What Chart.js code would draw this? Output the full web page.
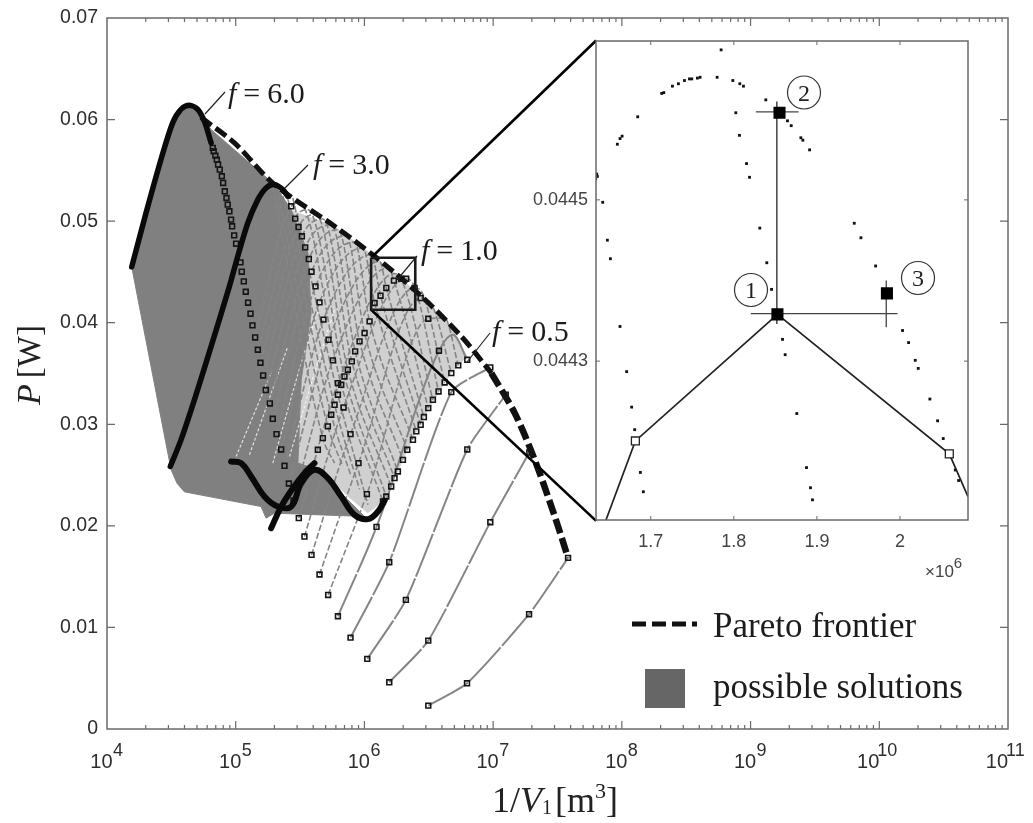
<!DOCTYPE html>
<html><head><meta charset="utf-8">
<script src="https://cdn.jsdelivr.net/npm/chart.js@4"></script>
<style>
html,body{margin:0;padding:0;background:#fff}
#wrap{position:relative;width:1033px;height:823px;overflow:hidden;filter:blur(0.45px)}
canvas{position:absolute;display:block}
</style></head><body>
<div id="wrap">
<canvas id="main" width="1033" height="823" style="left:0;top:0;width:1033px;height:823px"></canvas>
<canvas id="inset" width="503" height="570" style="left:530px;top:20px;width:503px;height:570px"></canvas>
</div>
<script>
// ---------- main chart values: [log10(1/V1), P in W] ----------
const xDecades = [4,5,6,7,8,9,10,11];
const yTicks = [0,0.01,0.02,0.03,0.04,0.05,0.06,0.07];
const solutionsRegion = [[4.192,.0455],[4.498,.02552],[4.544,.0242],[4.601,.02335],[5.197,.0219],[5.236,.02076],[5.301,.02125],[6.001,.02092],[5.871,.02256],[5.742,.0242],[5.612,.02568],[5.483,.02618],[5.509,.03438],[5.586,.04095],[5.561,.04686],[5.431,.05113],[5.301,.0536],[4.809,.05901],[4.705,.061],[4.64,.0614],[4.511,.0597],[4.192,.0455]];
const hatchRegion = [[5.431,.05113],[5.768,.0495],[6.079,.04654],[6.416,.04292],[6.675,.03964],[6.799,.03668],[6.675,.03504],[6.545,.03241],[6.403,.0293],[6.26,.02535],[6.144,.0224],[6.027,.02125],[5.871,.02289],[5.716,.02486],[5.612,.02585],[5.483,.02618],[5.509,.03438],[5.586,.04095],[5.561,.04686],[5.431,.05113]];
const f6Line = [[4.192,.0455],[4.303,.0508],[4.42,.0561],[4.511,.0597],[4.575,.061],[4.64,.0614],[4.705,.061],[4.757,.0598],[4.809,.0577]];
const f3Line = [[4.492,.02585],[4.575,.02847],[4.679,.03241],[4.809,.03767],[4.951,.04358],[5.016,.04654],[5.094,.04982],[5.172,.05212],[5.236,.05327],[5.301,.0536],[5.366,.0531],[5.405,.05245]];
const waveLine = [[4.964,.02634],[5.042,.02617],[5.12,.02486],[5.223,.02289],[5.327,.0219],[5.431,.0219],[5.509,.0242],[5.612,.02552],[5.716,.0247],[5.82,.02289],[5.923,.02108],[6.027,.02066],[6.105,.02141],[6.157,.0225]];
const riseLine = [[5.275,.01977],[5.353,.0219],[5.444,.02371],[5.534,.02519],[5.612,.02617]];
const f6Markers = [[4.822,.05721],[4.829,.05688],[4.842,.05645],[4.853,.05606],[4.863,.05557],[4.876,.05507],[4.892,.05442],[4.902,.05376],[4.915,.05294],[4.928,.05228],[4.938,.05163],[4.951,.05097],[4.964,.05015],[4.972,.04949],[4.988,.0486],[5.003,.04778],[5.037,.04594],[5.047,.04502],[5.063,.04407],[5.078,.04305],[5.096,.04197],[5.115,.04089],[5.13,.03974],[5.151,.03855],[5.172,.03734],[5.192,.03606],[5.213,.03481],[5.234,.03337],[5.265,.03205],[5.288,.03054],[5.317,.02903],[5.353,.02752],[5.379,.02591],[5.413,.02417],[5.449,.0225],[5.49,.02076],[5.534,.01895],[5.589,.01714],[5.651,.01521],[5.718,.0132],[5.794,.0111],[5.892,.009],[6.022,.0069],[6.193,.0046],[6.496,.0023]];
const f3Markers = [[5.431,.05146],[5.462,.05025],[5.488,.04942],[5.514,.04851],[5.54,.04742],[5.568,.04627],[5.589,.04502],[5.62,.04358],[5.651,.042],[5.682,.0403],[5.721,.03832],[5.755,.03629],[5.794,.03405],[5.838,.03166],[5.892,.02903],[5.954,.02618],[6.019,.02312],[6.094,.0199],[6.193,.01642],[6.322,.01271],[6.496,.0087],[6.797,.0045]];
const f1Markers = [[5.638,.02749],[5.677,.02864],[5.716,.02979],[5.742,.03094],[5.768,.03192],[5.794,.03291],[5.82,.03389],[5.845,.03471],[5.871,.03537],[5.902,.03619],[5.928,.03718],[5.962,.03816],[6.001,.03898],[6.04,.04013],[6.079,.04194],[6.125,.04266],[6.17,.04342],[6.229,.04414],[6.286,.04433],[6.325,.04433],[6.39,.04342],[6.437,.04243],[6.496,.04039],[6.579,.03724],[6.675,.03317],[6.799,.02752],[6.978,.02036],[7.279,.0113]];
const f05Markers = [[6.144,.0224],[6.17,.02289],[6.208,.02388],[6.234,.0247],[6.26,.02535],[6.299,.0265],[6.333,.02749],[6.377,.02847],[6.403,.0293],[6.437,.02995],[6.462,.03071],[6.496,.03159],[6.532,.03241],[6.576,.03323],[6.623,.03412],[6.675,.03504],[6.729,.0358],[6.799,.03635],[6.978,.0356],[7.098,.03291],[7.281,.02722],[7.582,.01685]];
// top of the constant-parameter curves, just under the frontier, for curves 4..21 counted from the lowest
const curvePeaks = [[6.688,.03882],[6.623,.04046],[6.519,.04187],[6.455,.04276],[6.39,.04351],[6.234,.04483],[6.182,.04539],[6.118,.04604],[6.053,.0467],[5.988,.04736],[5.923,.04795],[5.858,.04857],[5.794,.04916],[5.742,.04965],[5.677,.05021],[5.625,.05064],[5.56,.05113],[5.496,.05179]];
const descendingCurves = [[[5.444,.05228],[5.794,.03291],[6.027,.02207]],[[5.392,.05294],[5.768,.03192],[5.962,.0236]],[[5.353,.05327],[5.742,.03094],[5.897,.02486]],[[5.314,.0535],[5.716,.02979],[5.832,.02585]],[[5.288,.05343],[5.677,.02864],[5.768,.02617]]];
const paretoUpper = [[4.731,.0602],[4.99,.0577],[5.301,.0536],[5.768,.0495],[6.079,.04654],[6.416,.04292],[6.753,.03865],[6.986,.03504]];
const paretoLower = [[6.986,.03504],[7.168,.0311],[7.323,.0265],[7.479,.02092],[7.582,.01685]];
const streaks = [[[5.003,.02683],[5.275,.03504]],[[5.107,.027],[5.405,.03767]],[[5.288,.02617],[5.509,.03603],[5.716,.04424]],[[5.418,.02683],[5.612,.03504],[5.768,.04128]]];
const zoomBox = [[6.052,.0464],[6.395,.0464],[6.395,.04128],[6.052,.04128],[6.052,.0464]];
const connectorTop = [[6.052,.0464],[7.8,.06778]];
const connectorBottom = [[6.052,.04128],[7.8,.02049]];

// ---------- inset values: [1/V1 in units of 1e6, P in W] ----------
const insetXTicks = [1.7,1.8,1.9,2.0];
const insetYTicks = [0.0443,0.0445];
const insetDots = [[1.7847,.044686],[1.6843,.044603],[1.6598,.044569],[1.663,.044576],[1.6655,.044579],[1.7132,.044632],[1.7157,.044633],[1.7261,.044641],[1.7333,.044644],[1.7406,.044648],[1.7466,.04465],[1.7494,.04465],[1.7562,.044651],[1.7594,.044652],[1.7799,.044652],[1.7988,.044648],[1.8072,.044644],[1.8116,.044641],[1.8385,.044624],[1.8024,.044608],[1.8068,.04458],[1.8153,.044545],[1.8189,.044528],[1.8313,.044465],[1.8397,.044422],[1.8454,.044389],[1.8646,.044598],[1.8691,.044592],[1.8807,.044577],[1.8831,.044574],[1.8912,.044562],[1.945,.044471],[1.953,.044453],[1.9707,.044418],[1.635,.044532],[1.6357,.044529],[1.6337,.044526],[1.6422,.044497],[1.6478,.04445],[1.6514,.044427],[1.663,.044343],[1.671,.044287],[1.677,.044243],[1.6807,.044215],[1.6875,.044162],[1.6911,.044138],[1.8586,.044327],[1.8618,.044308],[1.8758,.044235],[1.8875,.044168],[1.8923,.044143],[1.8947,.044128],[2.0031,.044338],[2.0104,.044323],[2.0184,.044301],[2.022,.044291],[2.036,.044253],[2.0453,.044226],[2.0521,.044204],[2.0666,.044165],[2.0706,.044152]];
const insetSolid = [[1.8525,.044358],[1.855,.044608],[1.9843,.044384]];
const insetHollow = [[1.6815,.044201],[2.0594,.044185]];
const insetPath = [[1.6461,.044103],[1.6815,.044201],[1.8525,.044358],[2.0594,.044185],[2.0819,.044132]];
const crossV12 = [[1.8518,.044622],[1.8518,.044346]];
const crossH1 = [[1.8204,.044359],[1.9971,.044359]];
const crossH2 = [[1.8265,.044609],[1.8779,.044609]];
const crossV3 = [[1.9835,.0444],[1.9835,.044342]];

// ---------- helpers ----------
const SERIF = '"Liberation Serif","DejaVu Serif",serif';
const SANS = '"Liberation Sans",Arial,sans-serif';
const AXIS = '#6a6a6a', INK = '#1c1c1c', TICKTXT = '#2e2e2e';
const P = a => a.map(([l,p]) => ({x:10**l, y:p}));
const I = a => a.map(([m,p]) => ({x:m*1e6, y:p}));
const line = (data,o={}) => Object.assign({data,showLine:true,pointRadius:0,borderColor:'#000',borderWidth:2,fill:false,tension:0},o);
const dots = (data,o={}) => Object.assign({data,showLine:false,pointStyle:'rect',pointRadius:3.4,pointBorderWidth:1.6,pointBorderColor:'#151515',pointBackgroundColor:'rgba(0,0,0,0)'},o);
const noOverhang = s => {s.paddingLeft=0;s.paddingRight=0;s.paddingTop=0;s.paddingBottom=0;};

function drawRuns(ctx,x,y,parts,opt={}){
  ctx.save(); ctx.translate(x,y); if(opt.rot) ctx.rotate(opt.rot);
  ctx.fillStyle = opt.color||INK; ctx.textBaseline='alphabetic'; ctx.textAlign='left';
  let w=0; parts.forEach(p=>{ctx.font=p.f; w+=ctx.measureText(p.t).width+(p.gap||0);});
  let cx = opt.align==='center' ? -w/2 : 0;
  parts.forEach(p=>{ctx.font=p.f; ctx.fillText(p.t,cx,p.dy||0); cx+=ctx.measureText(p.t).width+(p.gap||0);});
  ctx.restore();
}

// ---------- main chart datasets, listed bottom to top ----------
const NC = 22;
const fromEnd = (a,k) => a[a.length-1-k];
const layers = [];
layers.push(line(P(hatchRegion),{borderWidth:0,borderColor:'rgba(0,0,0,0)',backgroundColor:'#d0d0d0',fill:'shape'}));
layers.push(line(P(solutionsRegion),{borderColor:'#808080',borderWidth:1,backgroundColor:'#808080',fill:'shape'}));
streaks.forEach(s=>layers.push(line(P(s),{borderColor:'rgba(255,255,255,.75)',borderWidth:1.2,borderDash:[3,2],tension:.3})));
for(let k=0;k<NC;k++){
  const c=[fromEnd(f6Markers,k),fromEnd(f3Markers,k),fromEnd(f1Markers,k),fromEnd(f05Markers,k)];
  if(k>=4) c.push(curvePeaks[k-4]);
  c.sort((a,b)=>a[0]-b[0]);
  const o = k<4 ? {tension:.2} : {cubicInterpolationMode:'monotone'};
  layers.push(line(P(c),Object.assign({borderColor:'#858585',borderWidth:k<5?2:1.6,borderDash:k<5?[46,2]:[6,2.5]},o)));
}
descendingCurves.forEach(c=>layers.push(line(P(c),{borderColor:'#858585',borderWidth:1.6,borderDash:[6,2.5],cubicInterpolationMode:'monotone'})));
layers.push(line(P(paretoUpper),{borderWidth:5,borderDash:[13,5],tension:.3,borderColor:'#111'}));
layers.push(line(P(paretoLower),{borderWidth:6.5,borderDash:[15,5],tension:.3,borderColor:'#111'}));
layers.push(dots(P(f6Markers)),dots(P(f3Markers)),dots(P(f1Markers)),dots(P(f05Markers)));
layers.push(line(P(f6Line),{borderWidth:5.5,tension:.3,borderCapStyle:'round',borderColor:'#0a0a0a'}));
layers.push(line(P(f3Line),{borderWidth:5.5,tension:.3,borderCapStyle:'round',borderColor:'#0a0a0a'}));
layers.push(line(P(riseLine),{borderWidth:6,tension:.3,borderCapStyle:'round',borderColor:'#0a0a0a'}));
layers.push(line(P(waveLine),{borderWidth:6,tension:.4,borderCapStyle:'round',borderColor:'#0a0a0a'}));
layers.push(line(P(connectorTop),{borderWidth:2.6}),line(P(connectorBottom),{borderWidth:2.6}));
layers.push(line(P(zoomBox),{borderWidth:2.6,borderColor:'#1a1a1a'}));

// ---------- annotation text (main) ----------
const fLabels = [
  {txt:'6.0',x:228,y:103,l:[205,114,225,92]},
  {txt:'3.0',x:313,y:174,l:[285,188,308,165]},
  {txt:'1.0',x:421,y:260,l:[397,280,417,256]},
  {txt:'0.5',x:492,y:341,l:[467,362,490,333]}
];
const framePlugin = {
  id:'frame',
  afterDatasetsDraw(ch){
    const {ctx,chartArea:a,scales:{x,y}}=ch;
    ctx.save(); ctx.strokeStyle=AXIS; ctx.lineWidth=1.5;
    ctx.strokeRect(a.left,a.top,a.right-a.left,a.bottom-a.top);
    ctx.lineWidth=1.2; ctx.beginPath();
    xDecades.forEach((d,i)=>{
      const px=x.getPixelForValue(10**d);
      if(i>0&&i<xDecades.length-1){ctx.moveTo(px,a.bottom);ctx.lineTo(px,a.bottom-8);ctx.moveTo(px,a.top);ctx.lineTo(px,a.top+8);}
      if(i<xDecades.length-1) for(let m=2;m<10;m++){
        const q=x.getPixelForValue(m*10**d);
        ctx.moveTo(q,a.bottom);ctx.lineTo(q,a.bottom-4);ctx.moveTo(q,a.top);ctx.lineTo(q,a.top+4);
      }
    });
    yTicks.slice(1,-1).forEach(v=>{
      const q=y.getPixelForValue(v);
      ctx.moveTo(a.left,q);ctx.lineTo(a.left+8,q);ctx.moveTo(a.right,q);ctx.lineTo(a.right-8,q);
    });
    ctx.stroke();
    // decade exponents beside the tick labels
    xDecades.forEach(d=>{
      const q=x.getPixelForValue(10**d);
      drawRuns(ctx,q+(d>=10?-2:6),756,[{t:String(d),f:'18px '+SANS}],{color:TICKTXT});
    });
    // f labels and leaders
    ctx.strokeStyle='#222'; ctx.lineWidth=1.2;
    fLabels.forEach(o=>{
      ctx.beginPath();ctx.moveTo(o.l[0],o.l[1]);ctx.lineTo(o.l[2],o.l[3]);ctx.stroke();
      drawRuns(ctx,o.x,o.y,[{t:'f',f:'italic 30px '+SERIF,gap:7},{t:'=',f:'30px '+SERIF,gap:7},{t:o.txt,f:'30px '+SERIF}]);
    });
    // axis titles
    drawRuns(ctx,40,365,[{t:'P',f:'italic 34px '+SERIF,gap:6},{t:'[W]',f:'33px '+SERIF}],{rot:-Math.PI/2,align:'center',color:'#222'});
    drawRuns(ctx,555,812,[{t:'1/',f:'36px '+SERIF},{t:'V',f:'italic 36px '+SERIF},{t:'1',f:'20px '+SERIF,dy:2,gap:3},{t:'[m',f:'36px '+SERIF},{t:'3',f:'22px '+SERIF,dy:-14},{t:']',f:'36px '+SERIF}],{align:'center',color:'#222'});
    // legend
    ctx.strokeStyle='#111';ctx.lineWidth=5;ctx.setLineDash([14,6]);
    ctx.beginPath();ctx.moveTo(632,624);ctx.lineTo(697,624);ctx.stroke();ctx.setLineDash([]);
    ctx.fillStyle='#666';ctx.fillRect(645,669,40,39);
    drawRuns(ctx,713,637,[{t:'Pareto frontier',f:'35px '+SERIF}]);
    drawRuns(ctx,713,698,[{t:'possible solutions',f:'35px '+SERIF}]);
    // multiplier of the inset axis
    drawRuns(ctx,925,577,[{t:'×10',f:'17px '+SANS},{t:'6',f:'15px '+SANS,dy:-9}],{color:'#444'});
    ctx.restore();
  }
};

new Chart(document.getElementById('main'),{
  type:'scatter',
  data:{datasets:layers.slice().reverse()},
  plugins:[framePlugin],
  options:{
    responsive:false,animation:false,devicePixelRatio:1,
    layout:{autoPadding:false,padding:{top:18,right:25,left:0,bottom:0}},
    plugins:{legend:{display:false},tooltip:{enabled:false}},
    scales:{
      x:{type:'logarithmic',min:1e4,max:1e11,
        grid:{display:false,tickLength:0,drawTicks:false},border:{display:false},
        afterBuildTicks:s=>{s.ticks=xDecades.map(d=>({value:10**d}));},
        afterFit:s=>{s.height=94;noOverhang(s);},
        ticks:{autoSkip:false,maxRotation:0,padding:21,color:TICKTXT,font:{family:SANS,size:20},
          // trailing spaces keep the digits left of the tick, leaving room for the exponent
          callback:v=>Math.log10(v)>=9.5?'10    ':'10  '}},
      y:{type:'linear',min:0,max:0.07,
        grid:{display:false,tickLength:0,drawTicks:false},border:{display:false},
        afterBuildTicks:s=>{s.ticks=yTicks.map(v=>({value:v}));},
        afterFit:s=>{s.width=107;noOverhang(s);},
        ticks:{autoSkip:false,padding:9,color:TICKTXT,font:{family:SANS,size:19.5},
          callback:v=>v===0?'0':v.toFixed(2)}}
    }
  }
});

// ---------- inset ----------
const insetLabels=[{t:'1',x:751,y:290},{t:'2',x:804,y:92.5},{t:'3',x:918,y:278}];
const insetPlugin={
  id:'insetFrame',
  beforeDatasetsDraw(ch){const {ctx,chartArea:a}=ch;ctx.save();ctx.fillStyle='#fff';ctx.fillRect(a.left,a.top,a.right-a.left,a.bottom-a.top);ctx.restore();},
  afterDatasetsDraw(ch){
    const {ctx,chartArea:a,scales:{x,y}}=ch;
    ctx.save();ctx.strokeStyle=AXIS;ctx.lineWidth=1.5;ctx.strokeRect(a.left,a.top,a.right-a.left,a.bottom-a.top);
    ctx.lineWidth=1;ctx.beginPath();
    insetXTicks.forEach(v=>{const q=x.getPixelForValue(v*1e6);ctx.moveTo(q,a.bottom);ctx.lineTo(q,a.bottom-4);ctx.moveTo(q,a.top);ctx.lineTo(q,a.top+4);});
    insetYTicks.forEach(v=>{const q=y.getPixelForValue(v);ctx.moveTo(a.left,q);ctx.lineTo(a.left+4,q);ctx.moveTo(a.right,q);ctx.lineTo(a.right-4,q);});
    ctx.stroke();
    ctx.translate(-530,-20);
    insetLabels.forEach(o=>{
      ctx.strokeStyle='#333';ctx.lineWidth=1.2;ctx.beginPath();ctx.arc(o.x,o.y,16.5,0,Math.PI*2);ctx.stroke();
      drawRuns(ctx,o.x,o.y+8,[{t:o.t,f:'24px '+SERIF}],{align:'center',color:'#222'});
    });
    ctx.restore();
  }
};
new Chart(document.getElementById('inset'),{
  type:'scatter',
  plugins:[insetPlugin],
  data:{datasets:[
    dots(I(insetSolid),{pointRadius:7.4,pointBackgroundColor:'#000',pointBorderColor:'#000'}),
    dots(I(insetHollow),{pointRadius:5.6,pointBorderWidth:1.3,pointBorderColor:'#222',pointBackgroundColor:'#fff'}),
    line(I(insetPath),{borderWidth:1.7,borderColor:'#222'}),
    line(I(crossV12),{borderWidth:1.5,borderColor:'#444'}),
    line(I(crossH1),{borderWidth:1.3,borderColor:'#444'}),
    line(I(crossH2),{borderWidth:1.3,borderColor:'#444'}),
    line(I(crossV3),{borderWidth:1.3,borderColor:'#444'}),
    dots(I(insetDots),{pointRadius:2,pointBorderWidth:0,pointBackgroundColor:'#111'})
  ]},
  options:{
    responsive:false,animation:false,devicePixelRatio:1,
    layout:{autoPadding:false,padding:{top:21,right:65,left:0,bottom:0}},
    plugins:{legend:{display:false},tooltip:{enabled:false}},
    scales:{
      x:{type:'linear',min:1.6341e6,max:2.0819e6,grid:{display:false,tickLength:0,drawTicks:false},border:{display:false},
        afterBuildTicks:s=>{s.ticks=insetXTicks.map(v=>({value:v*1e6}));},
        afterFit:s=>{s.height=70;noOverhang(s);},
        ticks:{autoSkip:false,maxRotation:0,padding:11,color:'#444',font:{family:SANS,size:18},
          callback:v=>{const m=Math.round(v/1e5)/10;return m===2?'2':m.toFixed(1);}}},
      y:{type:'linear',min:0.044103,max:0.044697,grid:{display:false,tickLength:0,drawTicks:false},border:{display:false},
        afterBuildTicks:s=>{s.ticks=insetYTicks.map(v=>({value:v}));},
        afterFit:s=>{s.width=66;noOverhang(s);},
        ticks:{autoSkip:false,padding:8,color:'#444',font:{family:SANS,size:18},
          callback:v=>v.toFixed(4)}}
    }
  }
});
</script>
</body></html>
